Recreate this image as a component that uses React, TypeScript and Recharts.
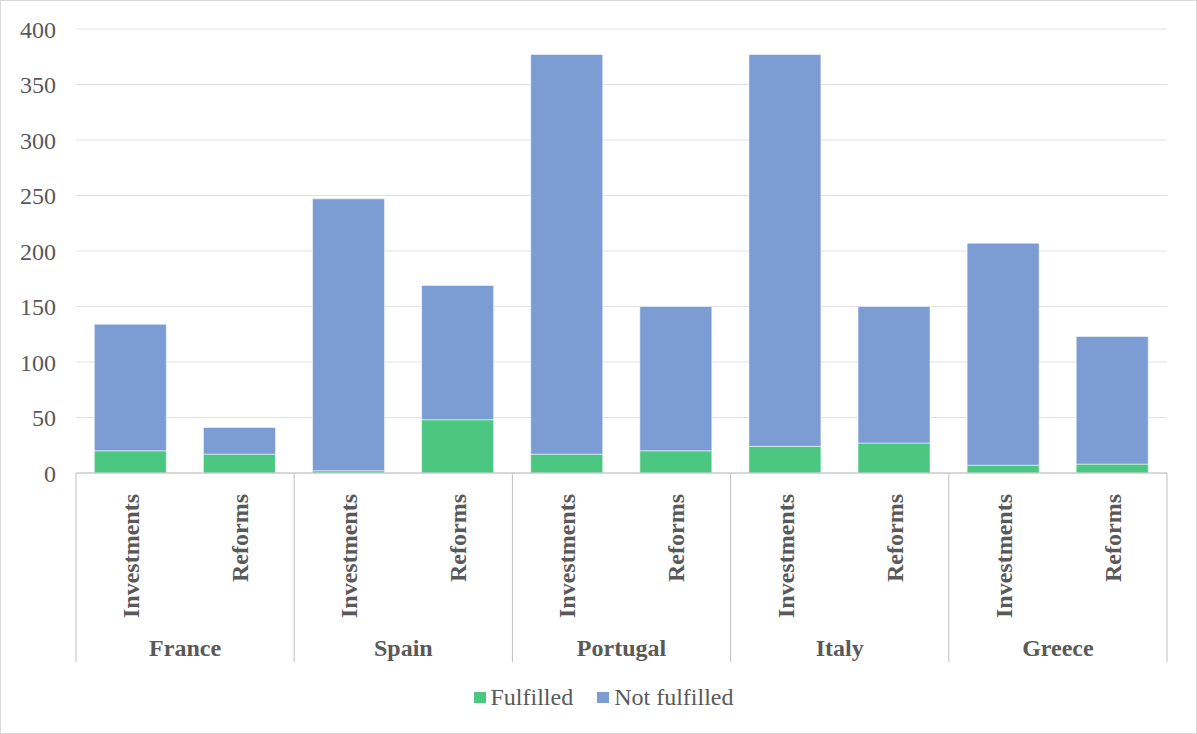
import { BarChart, Bar, XAxis, YAxis, CartesianGrid, Legend } from "recharts";

const countries = ["France", "Spain", "Portugal", "Italy", "Greece"];
const measureTypes = ["Investments", "Reforms"];
// order: France Inv, France Ref, Spain Inv, ...
const fulfilled = [20, 17, 2, 48, 17, 20, 24, 27, 7, 8];
const notFulfilled = [114, 24, 245, 121, 360, 130, 353, 123, 200, 115];
const yTicks = [0, 50, 100, 150, 200, 250, 300, 350, 400];

const GREEN = "#4cc782";
const BLUE = "#7c9dd4";
const TEXT = "#595959";
const LINE = "#bfbfbf";
const FONT = "'Liberation Serif', 'Times New Roman', serif";

const data = fulfilled.map((f, i) => ({
  id: `${countries[Math.floor(i / 2)]}-${measureTypes[i % 2]}`,
  country: countries[Math.floor(i / 2)],
  type: measureTypes[i % 2],
  fulfilled: f,
  notFulfilled: notFulfilled[i],
}));

function CategoryTick(props: any) {
  const { x, y, payload } = props;
  const i = payload.index ?? props.index ?? 0;
  const half = payload.offset ?? 54.5;
  const row = data[i];
  const lineLen = 189;
  return (
    <g>
      <text
        x={x}
        y={y + 21}
        transform={`rotate(-90, ${x}, ${y + 21})`}
        textAnchor="end"
        dy="0.35em"
        fill={TEXT}
        fontFamily={FONT}
        fontSize={24}
        fontWeight="bold"
      >
        {row.type}
      </text>
      {i % 2 === 0 && (
        <>
          <line x1={x - half} x2={x - half} y1={y} y2={y + lineLen} stroke={LINE} strokeWidth={1} />
          <text
            x={x + half}
            y={y + 183}
            textAnchor="middle"
            fill={TEXT}
            fontFamily={FONT}
            fontSize={24}
            fontWeight="bold"
          >
            {row.country}
          </text>
        </>
      )}
      {i === data.length - 1 && (
        <line x1={x + half} x2={x + half} y1={y} y2={y + lineLen} stroke={LINE} strokeWidth={1} />
      )}
    </g>
  );
}

function LegendContent() {
  const items = [
    { label: "Fulfilled", color: GREEN },
    { label: "Not fulfilled", color: BLUE },
  ];
  return (
    <div
      style={{
        display: "flex",
        justifyContent: "center",
        alignItems: "center",
        height: 30,
        paddingLeft: 10,
        fontFamily: FONT,
        fontSize: 24,
        color: TEXT,
      }}
    >
      {items.map((it, k) => (
        <span key={it.label} style={{ display: "flex", alignItems: "center", marginLeft: k ? 24 : 0 }}>
          <span style={{ width: 12, height: 11, background: it.color, marginRight: 5, display: "inline-block" }} />
          {it.label}
        </span>
      ))}
    </div>
  );
}

export default function App() {
  return (
    <div
      style={{
        position: "absolute",
        top: 0,
        left: 0,
        width: 1197,
        height: 734,
        boxSizing: "border-box",
        border: "1px solid #d9d9d9",
        background: "#fff",
      }}
    >
      <BarChart
        width={1195}
        height={732}
        data={data}
        margin={{ top: 28, right: 29, left: 0, bottom: 21 }}
        barCategoryGap="16.8%"
      >
        <CartesianGrid vertical={false} stroke="#e2e2e2" />
        <YAxis
          width={75}
          domain={[0, 400]}
          ticks={yTicks}
          axisLine={false}
          tickLine={false}
          tickMargin={14}
          tick={{ fill: TEXT, fontFamily: FONT, fontSize: 24 }}
        />
        <XAxis
          dataKey="id"
          height={209}
          interval={0}
          tickLine={false}
          tickSize={0}
          tickMargin={0}
          axisLine={{ stroke: LINE }}
          tick={<CategoryTick />}
        />
        <Legend
          verticalAlign="bottom"
          wrapperStyle={{ left: 0, width: 1195, height: 30 }}
          content={<LegendContent />}
        />
        <Bar dataKey="fulfilled" name="Fulfilled" stackId="a" fill={GREEN} stroke="rgba(255,255,255,0.5)" isAnimationActive={false} />
        <Bar dataKey="notFulfilled" name="Not fulfilled" stackId="a" fill={BLUE} stroke="rgba(255,255,255,0.5)" isAnimationActive={false} />
      </BarChart>
    </div>
  );
}
